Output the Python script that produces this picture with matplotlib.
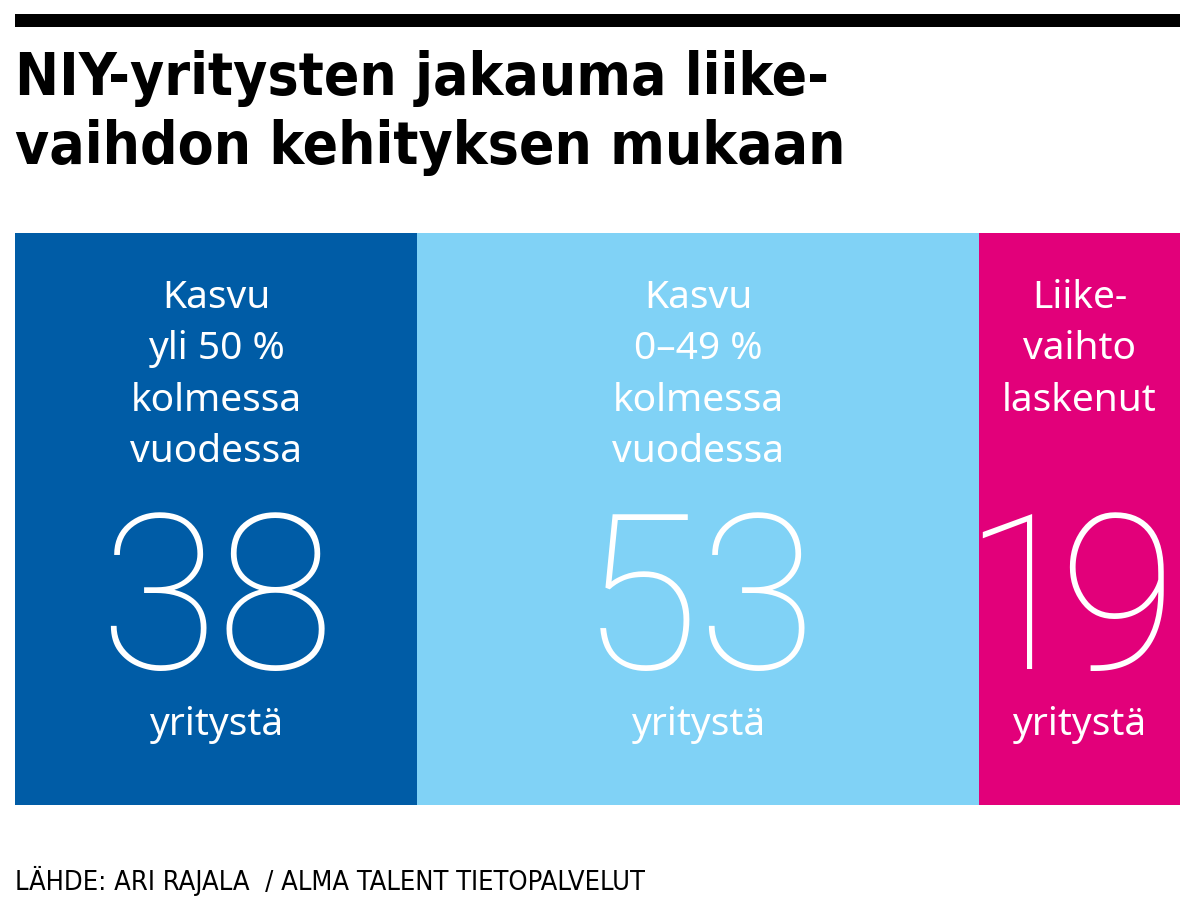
import matplotlib.pyplot as plt
from matplotlib.patches import Rectangle

categories = ["Kasvu\nyli 50 %\nkolmessa\nvuodessa",
              "Kasvu\n0–49 %\nkolmessa\nvuodessa",
              "Liike-\nvaihto\nlaskenut"]
counts = [38, 53, 19]
unit = "yritystä"
colors = ["#005ca6", "#80d2f6", "#e2007a"]

title = "NIY-yritysten jakauma liike-\nvaihdon kehityksen mukaan"
source = "LÄHDE: ARI RAJALA  / ALMA TALENT TIETOPALVELUT"

narrow = ["Noto Sans ExtraCondensed", "Noto Sans Condensed",
          "Liberation Sans Narrow", "DejaVu Sans"]

fig = plt.figure(figsize=(12, 9), dpi=100)
fig.patch.set_facecolor("white")

# top black rule
fig.add_artist(Rectangle((15 / 1200, 873 / 900), 1165 / 1200, 13 / 900,
                         transform=fig.transFigure, color="black", lw=0))

lines = title.split("\n")
for i, ln in enumerate(lines):
    fig.text(15 / 1200, 1 - (95 + 69 * i) / 900, ln, family=narrow,
             weight="bold", stretch="condensed", fontsize=42,
             va="baseline", ha="left")

ax = fig.add_axes([15 / 1200, 95 / 900, 1165 / 1200, 572 / 900])
xt = ax.get_xaxis_transform()
total = sum(counts)
left = 0
for cat, n, c in zip(categories, counts, colors):
    ax.barh(0, n, left=left, height=1, color=c, edgecolor="none")
    cx = left + n / 2
    for i, ln in enumerate(cat.split("\n")):
        ax.text(cx, 0.886 - i * 0.0895, ln, ha="center", va="center",
                color="white", fontsize=28, family="Noto Sans", transform=xt)
    # big number, digits placed one by one so "1" stays narrow
    s = str(n)
    adv = [54 if ch == "1" else 84 for ch in s]
    off = -sum(adv) / 2
    for ch, a in zip(s, adv):
        ax.annotate(ch, xy=(cx, 0.238), xycoords=xt,
                    xytext=(off + a / 2, 0), textcoords="offset points",
                    ha="center", va="baseline", color="white",
                    fontsize=156, family=["Roboto", "Lato"], weight="light")
        off += a
    ax.text(cx, 0.14, unit, ha="center", va="center", color="white",
            fontsize=28, family="Noto Sans", transform=xt)
    left += n

ax.set_xlim(0, total)
ax.set_ylim(-0.5, 0.5)
ax.axis("off")

fig.text(15 / 1200, 1 - 890 / 900, source, family=narrow, stretch="condensed",
         fontsize=19.5, ha="left", va="baseline")

fig.savefig("out.png", dpi=100)
